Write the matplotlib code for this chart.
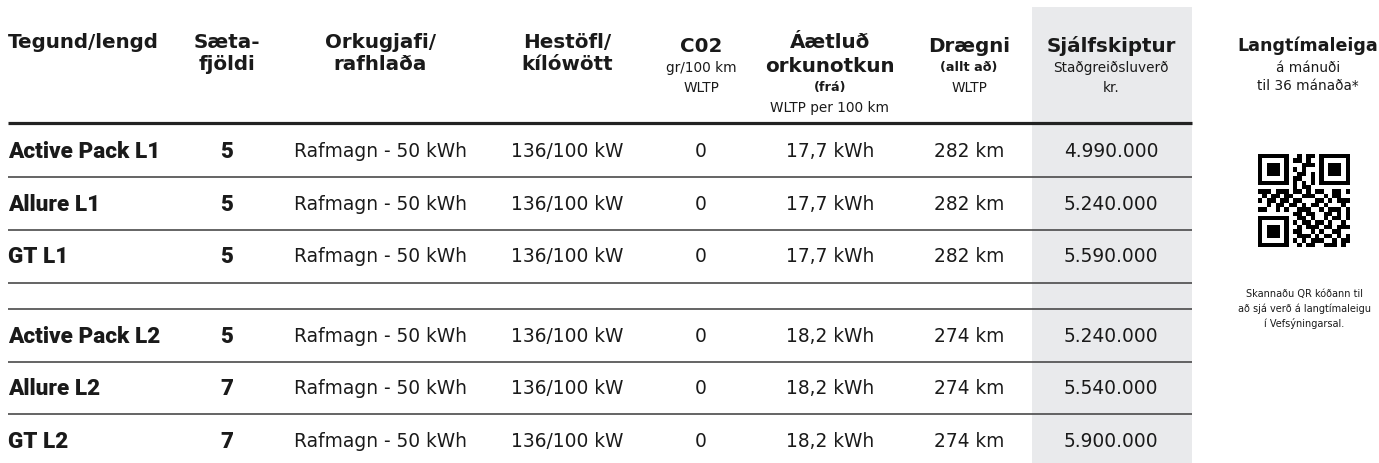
import matplotlib
matplotlib.use("Agg")
import matplotlib.pyplot as plt
from matplotlib.patches import Rectangle
import numpy as np

# ---------------- data ----------------
models = ["Active Pack L1", "Allure L1", "GT L1", "Active Pack L2", "Allure L2", "GT L2"]
seats = [5, 5, 5, 5, 7, 7]
energy_source = ["Rafmagn - 50 kWh"] * 6
power = ["136/100 kW"] * 6
co2 = [0, 0, 0, 0, 0, 0]
consumption_kwh = [17.7, 17.7, 17.7, 18.2, 18.2, 18.2]
range_km = [282, 282, 282, 274, 274, 274]
price_kr = [4990000, 5240000, 5590000, 5240000, 5540000, 5900000]

# header lines: (text, kind)  kind: 'b' bold title, 's' small regular, 'sb' small bold
headers = [
    [("Tegund/lengd", "b")],
    [("Sæta-", "b"), ("fjöldi", "b")],
    [("Orkugjafi/", "b"), ("rafhlaða", "b")],
    [("Hestöfl/", "b"), ("kílówött", "b")],
    [("C02", "b"), ("gr/100 km", "s"), ("WLTP", "s")],
    [("Áætluð", "b"), ("orkunotkun", "b"), ("(frá)", "sb"), ("WLTP per 100 km", "s")],
    [("Drægni", "b"), ("(allt að)", "sb"), ("WLTP", "s")],
    [("Sjálfskiptur", "b"), ("Staðgreiðsluverð", "s"), ("kr.", "s")],
    [("Langtímaleiga", "bl"), ("á mánuði", "s"), ("til 36 mánaða*", "s")],
]
qr_caption = ["Skannaðu QR kóðann til", "að sjá verð á langtímaleigu", "í Vefsýningarsal."]

qr_rows = [
    "1111111" + "0" + "01011" + "0" + "1111111",
    "1000001" + "0" + "11010" + "0" + "1000001",
    "1011101" + "0" + "00111" + "0" + "1011101",
    "1011101" + "0" + "10100" + "0" + "1011101",
    "1011101" + "0" + "01101" + "0" + "1011101",
    "1000001" + "0" + "11001" + "0" + "1000001",
    "1111111" + "0" + "10101" + "0" + "1111111",
    "00000000" + "10110" + "00000000",
    "1110111" + "01101011001101",
    "010110" + "1" + "10011100101100",
    "101101" + "1" + "01100011010111",
    "001011" + "0" + "11010110100010",
    "110010" + "1" + "00111001011101",
    "00000000" + "1" + "101100110101",
    "1111111" + "0" + "0110100101101",
    "1000001" + "0" + "1011011010010",
    "1011101" + "0" + "0101110110111",
    "1011101" + "0" + "1100101001100",
    "1011101" + "0" + "0111010110101",
    "1000001" + "0" + "1010111001011",
    "1111111" + "0" + "0101100111010",
]

# ---------------- layout ----------------
W, H = 1379, 464
col_x = [8, 227, 380, 567, 701, 830, 969, 1111, 1308]
caption_x = 1304
row_y = [152, 205, 257, 337, 389, 442]
line_y_rows = [178, 231, 284, 310, 363, 415]
header_line_y = 124
line_x0, line_x1 = 8, 1192
gray_x0, gray_x1, gray_y0 = 1032, 1192, 8

header_y = [
    [42],
    [42, 64],
    [42, 64],
    [43, 64],
    [46, 68, 88],
    [43, 66, 87, 108],
    [46, 68, 88],
    [46, 68, 88],
    [46, 68, 86],
]

TXT = "#1a1a1a"
GRAY = "#e9eaec"
HEAD_FONT = "DejaVu Sans"
BODY_FONT = "DejaVu Sans"
LABEL_FONT = "Roboto"

fig = plt.figure(figsize=(W / 100, H / 100), dpi=100)
ax = fig.add_axes([0, 0, 1, 1])
ax.set_xlim(0, W)
ax.set_ylim(H, 0)
ax.axis("off")

ax.add_patch(Rectangle((gray_x0, gray_y0), gray_x1 - gray_x0, H - gray_y0,
                       facecolor=GRAY, edgecolor="none", zorder=0))

# lines
ax.plot([line_x0, line_x1], [header_line_y] * 2, color="#222222", lw=2.3,
        solid_capstyle="butt", zorder=2)
for y in line_y_rows:
    ax.plot([line_x0, line_x1], [y, y], color="#4a4a4a", lw=1.2,
            solid_capstyle="butt", zorder=2)

# headers
styles = {
    "b": dict(family=HEAD_FONT, weight="bold", size=14.3),
    "bl": dict(family=HEAD_FONT, weight="bold", size=12.6),
    "s": dict(family=BODY_FONT, weight="normal", size=9.8),
    "sb": dict(family=HEAD_FONT, weight="bold", size=9.3),
}
for ci, (lines, ys) in enumerate(zip(headers, header_y)):
    for (txt, kind), y in zip(lines, ys):
        ha = "left" if ci == 0 else "center"
        ax.text(col_x[ci], y, txt, ha=ha, va="center", color=TXT, **styles[kind])

# body
def fmt_price(v):
    return f"{v:,}".replace(",", ".")

for i, y in enumerate(row_y):
    ax.text(col_x[0], y, models[i], ha="left", va="center", color=TXT,
            family=LABEL_FONT, weight="black", size=16.2)
    ax.text(col_x[1], y, str(seats[i]), ha="center", va="center", color=TXT,
            family=LABEL_FONT, weight="black", size=16)
    vals = [energy_source[i], power[i], str(co2[i]),
            f"{consumption_kwh[i]:.1f}".replace(".", ",") + " kWh",
            f"{range_km[i]} km", fmt_price(price_kr[i])]
    for k, v in enumerate(vals):
        ax.text(col_x[2 + k], y, v, ha="center", va="center", color=TXT,
                family=BODY_FONT, size=13.4)

# QR code
qr = np.array([[int(c) for c in r] for r in qr_rows])
qx0, qy0, qs = 1258, 156, 92
ax.imshow(1 - qr, cmap="gray", vmin=0, vmax=1, interpolation="nearest",
          extent=(qx0, qx0 + qs, qy0 + qs, qy0), zorder=3)
ax.set_xlim(0, W)
ax.set_ylim(H, 0)
ax.set_aspect("auto")

for j, t in enumerate(qr_caption):
    ax.text(caption_x, 294 + j * 15, t, ha="center", va="center", color=TXT,
            family=BODY_FONT, size=7.0)

fig.savefig("out.png", dpi=100, facecolor="white")
